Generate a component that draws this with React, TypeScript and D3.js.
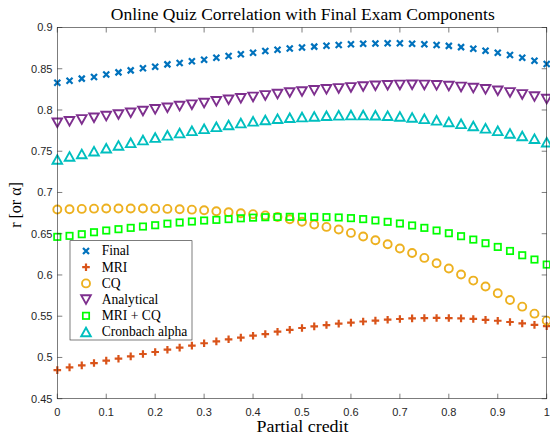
import React from "react";
import * as d3 from "d3";

const partialCredit = [
  0, 0.025, 0.05, 0.075, 0.1, 0.125, 0.15, 0.175, 0.2, 0.225, 0.25, 0.275, 0.3, 0.325,
  0.35, 0.375, 0.4, 0.425, 0.45, 0.475, 0.5, 0.525, 0.55, 0.575, 0.6, 0.625, 0.65, 0.675,
  0.7, 0.725, 0.75, 0.775, 0.8, 0.825, 0.85, 0.875, 0.9, 0.925, 0.95, 0.975, 1,
];

const finalR = [
  0.833, 0.8355, 0.838, 0.84, 0.843, 0.8456, 0.848, 0.8505, 0.8525, 0.8553, 0.857, 0.859,
  0.861, 0.8634, 0.8654, 0.8675, 0.8694, 0.8715, 0.873, 0.8745, 0.8757, 0.8768, 0.8779,
  0.8788, 0.8796, 0.8803, 0.8807, 0.8809, 0.8808, 0.8804, 0.8798, 0.8789, 0.8777, 0.8762,
  0.8743, 0.8719, 0.8694, 0.8666, 0.8634, 0.8597, 0.8557,
];
const mriR = [
  0.4847, 0.488, 0.4904, 0.4932, 0.4961, 0.4985, 0.5013, 0.5042, 0.5066, 0.5094, 0.5119,
  0.5143, 0.5172, 0.5195, 0.522, 0.524, 0.5264, 0.5284, 0.5312, 0.5335, 0.5357, 0.5377,
  0.5393, 0.541, 0.5422, 0.5436, 0.5446, 0.5458, 0.5466, 0.5474, 0.5478, 0.5479, 0.5478,
  0.5474, 0.5467, 0.5456, 0.5445, 0.543, 0.5412, 0.5395, 0.538,
];
const cqR = [
  0.6793, 0.6797, 0.6801, 0.6804, 0.6805, 0.6805, 0.6805, 0.6805, 0.6804, 0.6801, 0.6797,
  0.6792, 0.6785, 0.6773, 0.6761, 0.6749, 0.6737, 0.6722, 0.6702, 0.6675, 0.6645, 0.6611,
  0.6583, 0.6551, 0.651, 0.6466, 0.6421, 0.6373, 0.632, 0.6267, 0.6207, 0.6142, 0.6078,
  0.6005, 0.5932, 0.586, 0.5778, 0.5697, 0.5616, 0.5531, 0.5446,
];
const analyticalR = [
  0.7845, 0.7862, 0.7886, 0.7906, 0.7926, 0.7945, 0.7966, 0.7988, 0.8008, 0.8027, 0.8047,
  0.8065, 0.8084, 0.8105, 0.8124, 0.8141, 0.8158, 0.8177, 0.8193, 0.8212, 0.8224, 0.8238,
  0.825, 0.8262, 0.8274, 0.8285, 0.8294, 0.83, 0.8304, 0.8306, 0.8304, 0.8299, 0.829,
  0.828, 0.8266, 0.825, 0.8233, 0.8213, 0.8189, 0.8163, 0.8132,
];
const mriCqR = [
  0.6462, 0.6474, 0.6494, 0.6518, 0.6539, 0.6555, 0.6571, 0.6587, 0.6603, 0.6622, 0.6636,
  0.6648, 0.666, 0.6668, 0.6677, 0.6687, 0.6695, 0.67, 0.6703, 0.6705, 0.6705, 0.6704,
  0.6701, 0.6697, 0.6689, 0.6677, 0.6661, 0.6644, 0.6624, 0.66, 0.6571, 0.6539, 0.6506,
  0.647, 0.6429, 0.6385, 0.634, 0.6291, 0.6239, 0.6187, 0.6126,
];
const cronbachAlpha = [
  0.74, 0.7437, 0.7467, 0.7501, 0.7536, 0.757, 0.7602, 0.7635, 0.7665, 0.7693, 0.772,
  0.7747, 0.7772, 0.7796, 0.7818, 0.7841, 0.7862, 0.7879, 0.7895, 0.7906, 0.7914, 0.7922,
  0.793, 0.7935, 0.7938, 0.7938, 0.7936, 0.7931, 0.7922, 0.791, 0.7893, 0.7875, 0.7855,
  0.7832, 0.7806, 0.7778, 0.7748, 0.7716, 0.7685, 0.7652, 0.761,
];

const xTicks = [0, 0.1, 0.2, 0.3, 0.4, 0.5, 0.6, 0.7, 0.8, 0.9, 1];
const xTickLabels = ["0", "0.1", "0.2", "0.3", "0.4", "0.5", "0.6", "0.7", "0.8", "0.9", "1"];
const yTicks = [0.45, 0.5, 0.55, 0.6, 0.65, 0.7, 0.75, 0.8, 0.85, 0.9];
const yTickLabels = ["0.45", "0.5", "0.55", "0.6", "0.65", "0.7", "0.75", "0.8", "0.85", "0.9"];

const seriesNames = ["Final", "MRI", "CQ", "Analytical", "MRI + CQ", "Cronbach alpha"];
const seriesValues = [finalR, mriR, cqR, analyticalR, mriCqR, cronbachAlpha];
const seriesMarkers = ["x", "+", "o", "v", "s", "^"];
const seriesColors = ["#0072BD", "#D95319", "#EDB120", "#7E2F8E", "#00FF00", "#00BFBF"];

const W = 550;
const H = 438;
const left = 57.3;
const right = 546.7;
const top = 27.5;
const bottom = 398.7;

function Marker({ type, x, y, color }: { type: string; x: number; y: number; color: string }) {
  if (type === "x") {
    const s = 3;
    return (
      <path
        d={`M${x - s},${y - s}L${x + s},${y + s}M${x - s},${y + s}L${x + s},${y - s}`}
        stroke={color}
        strokeWidth={2.2}
        fill="none"
      />
    );
  }
  if (type === "+") {
    const s = 3.8;
    return (
      <path
        d={`M${x - s},${y}L${x + s},${y}M${x},${y - s}L${x},${y + s}`}
        stroke={color}
        strokeWidth={2.2}
        fill="none"
      />
    );
  }
  if (type === "o") {
    return <circle cx={x} cy={y} r={4} stroke={color} strokeWidth={1.9} fill="none" />;
  }
  if (type === "s") {
    const s = 3.2;
    return (
      <rect x={x - s} y={y - s} width={2 * s} height={2 * s} stroke={color} strokeWidth={1.7} fill="none" />
    );
  }
  if (type === "v") {
    const w = 4.8;
    const h = 4.3;
    return (
      <path
        d={`M${x - w},${y - h}L${x + w},${y - h}L${x},${y + h}Z`}
        stroke={color}
        strokeWidth={1.9}
        strokeLinejoin="miter"
        fill="none"
      />
    );
  }
  const w = 4.8;
  const h = 4.3;
  return (
    <path
      d={`M${x - w},${y + h}L${x + w},${y + h}L${x},${y - h}Z`}
      stroke={color}
      strokeWidth={1.9}
      fill="none"
    />
  );
}

export default function App() {
  const x = d3.scaleLinear().domain([0, 1]).range([left, right]);
  const y = d3.scaleLinear().domain([0.45, 0.9]).range([bottom, top]);
  const axisColor = "#262626";
  const tickLen = 5;
  const legX = 70;
  const legY = 240.7;
  const legW = 122;
  const legH = 99.3;
  const legRow = 16.2;

  return (
    <svg
      width={W}
      height={H}
      style={{ position: "absolute", left: 0, top: 0, background: "#fff" }}
      fontFamily="'Liberation Sans', Arial, sans-serif"
    >
      <rect x={0} y={0} width={W} height={H} fill="#fff" />
      {/* data */}
      {seriesValues.map((vals, si) => (
        <g key={si}>
          {vals.map((v, i) => (
            <Marker key={i} type={seriesMarkers[si]} x={x(partialCredit[i])} y={y(v)} color={seriesColors[si]} />
          ))}
        </g>
      ))}
      {/* axes box */}
      <rect x={left} y={top} width={right - left} height={bottom - top} fill="none" stroke={axisColor} strokeWidth={0.6} />
      {xTicks.map((t, i) => (
        <g key={"xt" + i}>
          <line x1={x(t)} x2={x(t)} y1={bottom} y2={bottom - tickLen} stroke={axisColor} strokeWidth={0.6} />
          <line x1={x(t)} x2={x(t)} y1={top} y2={top + tickLen} stroke={axisColor} strokeWidth={0.6} />
          <text x={x(t)} y={415.5} textAnchor="middle" fontSize={11} fill={axisColor}>
            {xTickLabels[i]}
          </text>
        </g>
      ))}
      {yTicks.map((t, i) => (
        <g key={"yt" + i}>
          <line x1={left} x2={left + tickLen} y1={y(t)} y2={y(t)} stroke={axisColor} strokeWidth={0.6} />
          <line x1={right} x2={right - tickLen} y1={y(t)} y2={y(t)} stroke={axisColor} strokeWidth={0.6} />
          <text x={52.5} y={y(t)} dy="0.36em" textAnchor="end" fontSize={11} fill={axisColor}>
            {yTickLabels[i]}
          </text>
        </g>
      ))}
      {/* title and labels */}
      <text
        x={302.8}
        y={20}
        textAnchor="middle"
        fontFamily="'Liberation Serif', 'Times New Roman', serif"
        fontSize={16}
        textLength={384}
        lengthAdjust="spacingAndGlyphs"
        fill="#000"
      >
        Online Quiz Correlation with Final Exam Components
      </text>
      <text
        x={302.5}
        y={431.5}
        textAnchor="middle"
        fontFamily="'Liberation Serif', 'Times New Roman', serif"
        fontSize={16}
        textLength={92}
        lengthAdjust="spacingAndGlyphs"
        fill="#000"
      >
        Partial credit
      </text>
      <text
        transform={`translate(21,205) rotate(-90)`}
        textAnchor="middle"
        fontFamily="'Liberation Serif', 'Times New Roman', serif"
        fontSize={16}
        fill="#000"
      >
        r [or α]
      </text>
      {/* legend */}
      <rect x={legX} y={legY} width={legW} height={legH} fill="#fff" stroke={axisColor} strokeWidth={0.6} />
      {seriesNames.map((name, i) => {
        const cy = legY + 10.3 + i * legRow;
        return (
          <g key={"lg" + i}>
            <Marker type={seriesMarkers[i]} x={86} y={cy} color={seriesColors[i]} />
            <text
              x={101.7}
              y={cy}
              dy="0.33em"
              fontFamily="'Liberation Serif', 'Times New Roman', serif"
              fontSize={13.6}
              fill="#000"
            >
              {name}
            </text>
          </g>
        );
      })}
    </svg>
  );
}
